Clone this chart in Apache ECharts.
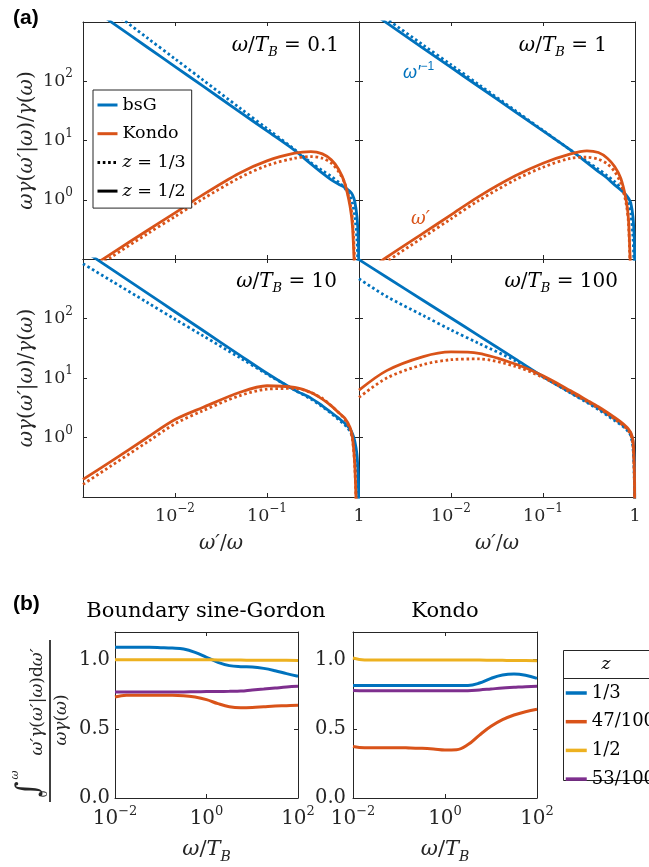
<!DOCTYPE html>
<html>
<head>
<meta charset="utf-8">
<script src="https://cdn.jsdelivr.net/npm/echarts@6.0.0/dist/echarts.min.js"></script>
<style>
  html, body { margin: 0; padding: 0; background: #fff; }
  #chart { width: 649px; height: 867px; }
</style>
</head>
<body>
<div id="chart"></div>
<script>
// (a) omega'/omega grid, shared by all four panels
var xPrime = [0.001, 0.002, 0.005, 0.01, 0.02, 0.05, 0.1, 0.2, 0.3, 0.4, 0.5, 0.6, 0.7, 0.8, 0.85, 0.9, 0.95, 0.98, 0.99, 0.999];

// omega/T_B = 0.1
var bsgHalf01 = [2160, 1018, 375, 177, 83.4, 30.8, 14.5, 6.8, 4.03, 2.81, 2.17, 1.83, 1.61, 1.38, 1.21, 0.93, 0.52, 0.24, 0.12, 0.01];
var bsgThird01 = [3580, 1585, 538, 239, 106, 35.9, 15.9, 7.03, 4.24, 3.11, 2.47, 1.98, 1.57, 1.13, 0.87, 0.52, 0.21, 0.05, 0.03, 0.01];
var kondoHalf01 = [0.06, 0.121, 0.303, 0.6, 1.21, 2.81, 4.53, 6.1, 6.5, 5.94, 4.71, 3.28, 1.9, 0.77, 0.35, 0.05, 0.01, 0.005, 0.003, 0.001];
var kondoThird01 = [0.05, 0.106, 0.266, 0.52, 1.03, 2.34, 3.78, 5.02, 5.36, 5.02, 4.14, 2.99, 1.9, 0.87, 0.46, 0.08, 0.01, 0.005, 0.003, 0.001];

// omega/T_B = 1
var bsgHalf1 = [2030, 964, 360, 171, 81.5, 30.4, 14.5, 6.87, 4.25, 2.99, 2.31, 1.78, 1.47, 1.21, 1.06, 0.875, 0.52, 0.24, 0.12, 0.01];
var bsgThird1 = [2430, 1127, 407, 190, 88.1, 31.9, 14.8, 6.87, 4.42, 3.28, 2.53, 2.03, 1.57, 1.13, 0.875, 0.59, 0.24, 0.06, 0.03, 0.01];
var kondoHalf1 = [0.05, 0.107, 0.273, 0.556, 1.13, 2.53, 4.14, 5.94, 6.68, 6.26, 5.02, 3.63, 2.31, 1.0, 0.46, 0.05, 0.01, 0.005, 0.003, 0.001];
var kondoThird1 = [0.04, 0.09, 0.234, 0.476, 0.97, 2.17, 3.54, 5.02, 5.22, 4.83, 4.03, 2.99, 1.9, 0.875, 0.4, 0.04, 0.01, 0.005, 0.003, 0.001];

// omega/T_B = 10
var bsgHalf10 = [1413, 690, 267, 130, 63.5, 24.5, 12.0, 6.26, 4.59, 3.41, 2.63, 2.11, 1.74, 1.38, 1.16, 0.875, 0.52, 0.24, 0.12, 0.01];
var bsgThird10 = [834, 436, 186, 97.3, 51.6, 22.2, 11.6, 6.26, 4.42, 3.28, 2.53, 2.0, 1.63, 1.26, 1.0, 0.68, 0.31, 0.1, 0.05, 0.01];
var kondoHalf10 = [0.198, 0.393, 1.0, 2.0, 3.19, 5.71, 7.41, 6.94, 5.71, 4.42, 3.41, 2.63, 2.11, 1.47, 1.0, 0.35, 0.03, 0.01, 0.005, 0.001];
var kondoThird10 = [0.163, 0.33, 0.84, 1.7, 2.81, 5.02, 6.5, 6.68, 5.71, 4.53, 3.41, 2.63, 2.03, 1.38, 0.93, 0.33, 0.03, 0.01, 0.005, 0.001];

// omega/T_B = 100
var bsgHalf100 = [975, 494, 201, 102, 51.6, 21.0, 10.6, 5.71, 4.03, 3.11, 2.47, 2.06, 1.74, 1.47, 1.32, 1.16, 0.875, 0.46, 0.24, 0.01];
var bsgThird100 = [466, 234, 112, 64.3, 38.3, 19.5, 10.5, 5.57, 3.88, 2.95, 2.34, 1.93, 1.63, 1.38, 1.24, 1.06, 0.68, 0.24, 0.1, 0.01];
var kondoHalf100 = [6.26, 13.3, 22.9, 27.4, 26.0, 17.2, 10.9, 6.1, 4.25, 3.28, 2.63, 2.17, 1.83, 1.53, 1.38, 1.21, 0.9, 0.35, 0.15, 0.01];
var kondoThird100 = [4.71, 9.98, 16.8, 20.3, 20.9, 15.7, 10.2, 5.71, 4.03, 3.11, 2.5, 2.03, 1.71, 1.43, 1.29, 1.1, 0.77, 0.24, 0.08, 0.01];

var tbLabels = ['0.1', '1', '10', '100'];

// (b) omega/T_B grid
var xRatio = [0.01, 0.0178, 0.0316, 0.0562, 0.1, 0.178, 0.316, 0.562, 1, 1.78, 3.16, 5.62, 10, 17.8, 31.6, 56.2, 100];

var zLabels = ['1/3', '47/100', '1/2', '53/100'];
var bsgSum13 = [1.089, 1.089, 1.089, 1.089, 1.087, 1.084, 1.077, 1.053, 1.017, 0.981, 0.957, 0.949, 0.947, 0.937, 0.92, 0.899, 0.88];
var bsgSum47 = [0.73, 0.742, 0.742, 0.742, 0.742, 0.742, 0.74, 0.73, 0.711, 0.682, 0.66, 0.653, 0.655, 0.66, 0.665, 0.667, 0.67];
var bsgSum12 = [1.0, 1.0, 1.0, 1.0, 1.0, 1.0, 1.0, 1.0, 0.999, 0.998, 0.997, 0.997, 0.996, 0.996, 0.995, 0.995, 0.994];
var bsgSum53 = [0.766, 0.766, 0.766, 0.766, 0.766, 0.767, 0.767, 0.768, 0.769, 0.77, 0.771, 0.773, 0.781, 0.788, 0.795, 0.802, 0.807];

var kondoSum13 = [0.814, 0.814, 0.814, 0.814, 0.814, 0.814, 0.814, 0.814, 0.814, 0.814, 0.814, 0.831, 0.865, 0.889, 0.896, 0.887, 0.865];
var kondoSum47 = [0.373, 0.364, 0.364, 0.364, 0.364, 0.361, 0.359, 0.354, 0.347, 0.349, 0.386, 0.455, 0.518, 0.566, 0.6, 0.624, 0.641];
var kondoSum12 = [1.012, 0.998, 0.998, 0.998, 0.998, 0.998, 0.998, 0.998, 0.998, 0.998, 0.997, 0.997, 0.996, 0.995, 0.994, 0.994, 0.993];
var kondoSum53 = [0.778, 0.776, 0.776, 0.776, 0.776, 0.776, 0.776, 0.776, 0.776, 0.776, 0.776, 0.781, 0.788, 0.795, 0.8, 0.805, 0.807];

var FONT = "'DejaVu Serif', serif";
var INK = '#262626';
var BLUE = '#0072BD', ORANGE = '#D95319', YELLOW = '#EDB120', PURPLE = '#7E2F8E';
var DOTS = [2.6, 2.7];

var panelsA = [
    { bsg: [bsgHalf01, bsgThird01], kondo: [kondoHalf01, kondoThird01] },
    { bsg: [bsgHalf1, bsgThird1], kondo: [kondoHalf1, kondoThird1] },
    { bsg: [bsgHalf10, bsgThird10], kondo: [kondoHalf10, kondoThird10] },
    { bsg: [bsgHalf100, bsgThird100], kondo: [kondoHalf100, kondoThird100] }
];
var panelsB = [
    [bsgSum13, bsgSum47, bsgSum12, bsgSum53],
    [kondoSum13, kondoSum47, kondoSum12, kondoSum53]
];
var zColors = [BLUE, ORANGE, YELLOW, PURPLE];

// grid boxes: left, top, width, height
var boxesA = [[83, 22, 276, 237], [359, 22, 276, 237], [83, 259, 276, 238], [359, 259, 276, 238]];
var boxesB = [[115, 632, 183, 166], [353, 632, 184, 166]];

function pairs(xs, ys) {
    return xs.map(function (x, j) { return [x, ys[j]]; });
}

function supRich(base, sup, lh) {
    return {
        b: { fontSize: base, lineHeight: lh, fontFamily: FONT, color: INK },
        s: { fontSize: sup, lineHeight: sup, verticalAlign: 'top', fontFamily: FONT, color: INK },
        i: { fontStyle: 'italic', fontSize: base, lineHeight: lh, fontFamily: FONT, color: INK },
        u: { fontStyle: 'italic', fontSize: sup, lineHeight: sup, verticalAlign: 'bottom', fontFamily: FONT, color: INK }
    };
}

function frameAxis(extra) {
    var ax = {
        axisLine: { show: true, onZero: false, lineStyle: { color: INK, width: 1 } },
        axisTick: { show: true, inside: true, length: 4, lineStyle: { color: INK, width: 1 } },
        splitLine: { show: false },
        axisLabel: { show: false }
    };
    for (var k in extra) ax[k] = extra[k];
    return ax;
}

function logX(v) {
    var e = Math.round(Math.log10(v));
    if (e === -3) return '';
    if (e === 0) return '{b|1}';
    return '{b|10}{s|−' + (-e) + '}';
}
function logY(v) {
    var e = Math.round(Math.log10(v));
    if (e < 0 || e > 2) return '';
    return '{b|10}{s|' + e + '}';
}
function logXb(v) {
    var e = Math.round(Math.log10(v));
    return '{b|10}{s|' + (e < 0 ? '−' : '') + Math.abs(e) + '}';
}

var grid = [], xAxis = [], yAxis = [], series = [];

boxesA.forEach(function (g, i) {
    var bottomRow = i > 1, leftCol = i % 2 === 0;
    grid.push({ left: g[0], top: g[1], width: g[2], height: g[3], outerBoundsMode: 'none' });
    xAxis.push(frameAxis({
        type: 'log', gridIndex: i, min: 0.001, max: 1, position: 'bottom',
        axisLabel: bottomRow ? { show: true, margin: 6, formatter: logX, rich: supRich(17.5, 12, 26) } : { show: false },
        name: bottomRow ? '{i|ω′}/{i|ω}' : '',
        nameLocation: 'middle', nameGap: 34,
        nameTextStyle: { fontFamily: FONT, fontSize: 20, color: INK, lineHeight: 26, rich: supRich(20, 13, 26) }
    }));
    xAxis.push(frameAxis({ type: 'log', gridIndex: i, min: 0.001, max: 1, position: 'top' }));
    yAxis.push(frameAxis({
        type: 'log', gridIndex: i, min: 0.1, max: 1000, position: 'left',
        axisLabel: leftCol ? { show: true, margin: 10, formatter: logY, rich: supRich(17.5, 12, 26) } : { show: false },
        name: leftCol ? '{i|ωγ}({i|ω′}|{i|ω})/{i|γ}({i|ω})' : '',
        nameLocation: 'middle', nameGap: 42, nameRotate: 90,
        nameTextStyle: { fontFamily: FONT, fontSize: 20, color: INK, lineHeight: 24, rich: supRich(20, 13, 24) }
    }));
    yAxis.push(frameAxis({ type: 'log', gridIndex: i, min: 0.1, max: 1000, position: 'right' }));

    var p = panelsA[i];
    var specs = [
        ['bsG', BLUE, 'solid', p.bsg[0]],
        ['bsG', BLUE, DOTS, p.bsg[1]],
        ['Kondo', ORANGE, 'solid', p.kondo[0]],
        ['Kondo', ORANGE, DOTS, p.kondo[1]]
    ];
    specs.forEach(function (s) {
        series.push({
            name: s[0], type: 'line', xAxisIndex: 2 * i, yAxisIndex: 2 * i,
            data: pairs(xPrime, s[3]), symbol: 'none', smooth: 0.3,
            lineStyle: { color: s[1], width: 2.8, type: s[2], join: 'round' }, itemStyle: { color: s[1] }
        });
    });
});

// legend-only series for the line styles
series.push({ name: 'z = 1/3', type: 'line', xAxisIndex: 0, yAxisIndex: 0, data: [], symbol: 'none',
    lineStyle: { color: '#000', width: 2.8, type: DOTS }, itemStyle: { color: '#000' } });
series.push({ name: 'z = 1/2', type: 'line', xAxisIndex: 0, yAxisIndex: 0, data: [], symbol: 'none',
    lineStyle: { color: '#000', width: 2.8 }, itemStyle: { color: '#000' } });

boxesB.forEach(function (g, k) {
    var i = 4 + k;
    grid.push({ left: g[0], top: g[1], width: g[2], height: g[3], outerBoundsMode: 'none' });
    xAxis.push(frameAxis({
        type: 'log', gridIndex: i, min: 0.01, max: 100, position: 'bottom',
        axisTick: { show: true, inside: true, length: 4, customValues: [0.01, 1, 100], lineStyle: { color: INK } },
        axisLabel: { show: true, margin: 7, customValues: [0.01, 1, 100], formatter: logXb, rich: supRich(20, 13, 28) },
        name: '{i|ω}/{i|T}{u|B}', nameLocation: 'middle', nameGap: 38,
        nameTextStyle: { fontFamily: FONT, fontSize: 21, color: INK, lineHeight: 28, rich: supRich(21, 14, 28) }
    }));
    xAxis.push(frameAxis({
        type: 'log', gridIndex: i, min: 0.01, max: 100, position: 'top',
        axisTick: { show: true, inside: true, length: 4, customValues: [1], lineStyle: { color: INK } }
    }));
    yAxis.push(frameAxis({
        type: 'value', gridIndex: i, min: 0, max: 1.2, interval: 0.5, position: 'left',
        axisTick: { show: true, inside: true, length: 4, customValues: [0, 0.5, 1], lineStyle: { color: INK } },
        axisLabel: { show: true, margin: k === 0 ? 5 : 7, customValues: [0, 0.5, 1], fontFamily: FONT, fontSize: 19.5, color: INK,
            formatter: function (v) { return v.toFixed(1); } }
    }));
    yAxis.push(frameAxis({
        type: 'value', gridIndex: i, min: 0, max: 1.2, interval: 0.5, position: 'right',
        axisTick: { show: true, inside: true, length: 4, customValues: [0, 0.5, 1], lineStyle: { color: INK } }
    }));
    panelsB[k].forEach(function (ys, j) {
        series.push({
            name: zLabels[j], type: 'line', xAxisIndex: 2 * i, yAxisIndex: 2 * i,
            data: pairs(xRatio, ys), symbol: 'none', smooth: 0.4,
            lineStyle: { color: zColors[j], width: 3 }, itemStyle: { color: zColors[j] }
        });
    });
});

function tbText(x, y, val) {
    return {
        type: 'text', x: x, y: y,
        style: {
            text: '{i|ω}/{i|T}{u|B} = ' + val, fontFamily: FONT, fontSize: 20, lineHeight: 26, fill: '#000',
            align: 'right', verticalAlign: 'middle',
            rich: {
                i: { fontStyle: 'italic', fontSize: 20, lineHeight: 26, fontFamily: FONT },
                u: { fontStyle: 'italic', fontSize: 13, lineHeight: 13, verticalAlign: 'bottom', fontFamily: FONT }
            }
        }
    };
}

var graphic = [
    { type: 'text', left: 13, top: 8, style: { text: '(a)', fontFamily: "'Liberation Sans', Arial, sans-serif", fontWeight: 'bold', fontSize: 21, fill: '#000' } },
    { type: 'text', left: 13, top: 594, style: { text: '(b)', fontFamily: "'Liberation Sans', Arial, sans-serif", fontWeight: 'bold', fontSize: 21, fill: '#000' } },
    tbText(339, 46, tbLabels[0]),
    tbText(607, 46, tbLabels[1]),
    tbText(337, 282, tbLabels[2]),
    tbText(618, 282, tbLabels[3]),
    { type: 'text', x: 403, y: 73, style: {
        text: '{i|ω′}{s|−1}', fill: BLUE, align: 'left', verticalAlign: 'middle', fontFamily: FONT, fontSize: 18,
        rich: { i: { fontStyle: 'italic', fontSize: 18, lineHeight: 24, fill: BLUE }, s: { fontSize: 12, lineHeight: 12, verticalAlign: 'top', fill: BLUE } } } },
    { type: 'text', x: 411, y: 219, style: { text: 'ω′', fill: ORANGE, fontStyle: 'italic', fontFamily: FONT, fontSize: 18, align: 'left', verticalAlign: 'middle' } },
    { type: 'text', x: 206, y: 612, style: { text: 'Boundary sine-Gordon', fill: '#000', fontFamily: FONT, fontSize: 21, align: 'center', verticalAlign: 'middle' } },
    { type: 'text', x: 445, y: 612, style: { text: 'Kondo', fill: '#000', fontFamily: FONT, fontSize: 21, align: 'center', verticalAlign: 'middle' } },
    // rotated fraction label of panel (b)
    { type: 'group', x: 50, y: 721, rotation: Math.PI / 2, children: [
        { type: 'line', shape: { x1: -81, y1: 0, x2: 81, y2: 0 }, style: { stroke: '#000', lineWidth: 1.5 } },
        { type: 'text', x: -68, y: -21, style: { text: '∫', fontFamily: FONT, fontSize: 30, fill: INK, align: 'center', verticalAlign: 'middle' } },
        { type: 'text', x: -54, y: -35, style: { text: 'ω', fontFamily: FONT, fontStyle: 'italic', fontSize: 11, fill: INK, align: 'center', verticalAlign: 'middle' } },
        { type: 'text', x: -73, y: -6, style: { text: '0', fontFamily: FONT, fontSize: 11, fill: INK, align: 'center', verticalAlign: 'middle' } },
        { type: 'text', x: 19, y: -12, style: {
            text: '{i|ω′γ}({i|ω′}|{i|ω})d{i|ω′}', fontFamily: FONT, fontSize: 17, fill: INK, align: 'center', verticalAlign: 'middle',
            rich: { i: { fontStyle: 'italic', fontSize: 17, fontFamily: FONT } } } },
        { type: 'text', x: 1, y: 12, style: {
            text: '{i|ωγ}({i|ω})', fontFamily: FONT, fontSize: 17, fill: INK, align: 'center', verticalAlign: 'middle',
            rich: { i: { fontStyle: 'italic', fontSize: 17, fontFamily: FONT } } } }
    ] },
    // z legend frame of panel (b)
    { type: 'rect', shape: { x: 563.5, y: 650.5, width: 130, height: 130 }, style: { fill: null, stroke: INK, lineWidth: 1 } },
    { type: 'line', shape: { x1: 563.5, y1: 678.5, x2: 700, y2: 678.5 }, style: { stroke: INK, lineWidth: 1 } },
    { type: 'text', x: 606, y: 665, style: { text: 'z', fontFamily: FONT, fontStyle: 'italic', fontSize: 17, fill: '#000', align: 'center', verticalAlign: 'middle' } }
];

var chart = echarts.init(document.getElementById('chart'), null, { renderer: 'canvas' });
chart.setOption({
    animation: false,
    backgroundColor: '#fff',
    grid: grid,
    xAxis: xAxis,
    yAxis: yAxis,
    legend: [
        {
            data: ['bsG', 'Kondo', 'z = 1/3', 'z = 1/2'],
            left: 93, top: 90, orient: 'vertical',
            backgroundColor: '#fff', borderColor: INK, borderWidth: 1, borderRadius: 0,
            padding: [6, 6, 8, 3], itemWidth: 20, itemHeight: 14, itemGap: 10.7, selectedMode: false,
            itemStyle: { opacity: 0 }, lineStyle: { width: 3 },
            textStyle: { fontFamily: FONT, fontSize: 17.5, color: '#000', rich: { i: { fontStyle: 'italic', fontFamily: FONT, fontSize: 17.5, color: '#000' } } },
            formatter: function (n) { return n.charAt(0) === 'z' ? '{i|z}' + n.slice(1) : n; }
        },
        {
            data: zLabels,
            left: 564, top: 684, orient: 'vertical', padding: 0,
            itemWidth: 21, itemHeight: 14, itemGap: 10.7, selectedMode: false,
            itemStyle: { opacity: 0 }, lineStyle: { width: 3.5 },
            textStyle: { fontFamily: FONT, fontSize: 18, color: '#000' }
        }
    ],
    graphic: graphic,
    series: series
});
</script>
</body>
</html>
